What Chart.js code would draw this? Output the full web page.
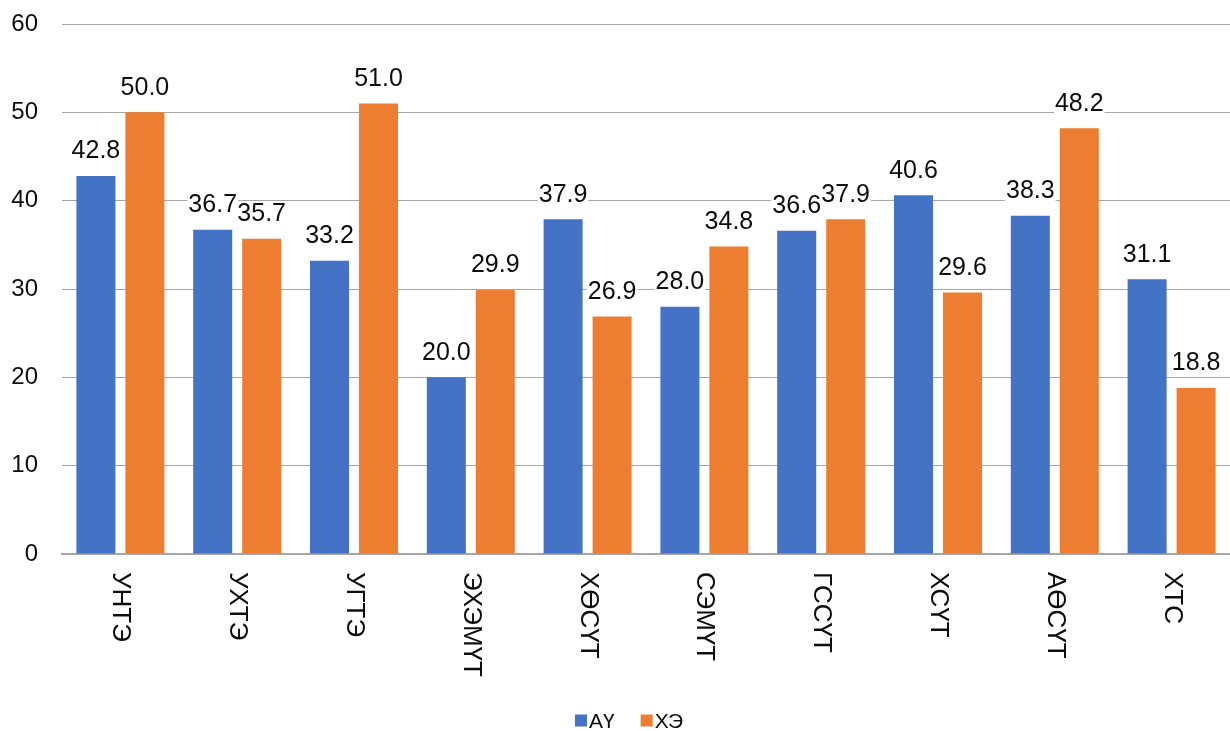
<!DOCTYPE html>
<html>
<head>
<meta charset="utf-8">
<script src="https://cdn.jsdelivr.net/npm/chart.js@4/dist/chart.umd.min.js"></script>
<style>
  html, body { margin: 0; padding: 0; background: #fff; }
  #wrap { width: 1230px; height: 731px; position: relative; }
</style>
</head>
<body>
<div id="wrap"><canvas id="c" width="1230" height="731"></canvas></div>
<script>
// Hospitals (categories)
const categories = ['УНТЭ', 'УХТЭ', 'УГТЭ', 'ЭХЭМҮТ', 'ХӨСҮТ', 'СЭМҮТ', 'ГССҮТ', 'ХСҮТ', 'АӨСҮТ', 'ХТС'];
// Series values
const seriesNames = ['АҮ', 'ХЭ'];
const valuesAU = [42.8, 36.7, 33.2, 20.0, 37.9, 28.0, 36.6, 40.6, 38.3, 31.1];
const valuesKHE = [50.0, 35.7, 51.0, 29.9, 26.9, 34.8, 37.9, 29.6, 48.2, 18.8];
// Value axis ticks
const yTicks = [0, 10, 20, 30, 40, 50, 60];

const FONT = '"Liberation Sans", Arial, sans-serif';
const BLUE = '#4472C4';
const ORANGE = '#ED7D31';

// Value labels above each bar, on a white box
const valueLabels = {
  id: 'valueLabels',
  afterDatasetsDraw(chart) {
    const ctx = chart.ctx;
    ctx.save();
    ctx.font = '25px ' + FONT;
    ctx.textAlign = 'center';
    ctx.textBaseline = 'alphabetic';
    chart.data.datasets.forEach((ds, di) => {
      const meta = chart.getDatasetMeta(di);
      meta.data.forEach((bar, i) => {
        const txt = ds.data[i].toFixed(1);
        const base = bar.y - 17.5;
        const w = ctx.measureText(txt).width;
        ctx.fillStyle = '#fff';
        ctx.fillRect(bar.x - w / 2 - 1, base - 20, w + 2, 25);
        ctx.fillStyle = '#0d0d0d';
        ctx.fillText(txt, bar.x, base);
      });
    });
    ctx.restore();
  }
};

// Category labels, turned to read top to bottom
const categoryLabels = {
  id: 'categoryLabels',
  afterDraw(chart) {
    const ctx = chart.ctx;
    const xs = chart.scales.x;
    ctx.save();
    ctx.font = '26px ' + FONT;
    ctx.fillStyle = '#0d0d0d';
    ctx.textAlign = 'left';
    ctx.textBaseline = 'alphabetic';
    xs.ticks.forEach((t, i) => {
      const x = xs.getPixelForTick(i);
      ctx.save();
      ctx.translate(x - 7, chart.chartArea.bottom + 18);
      ctx.rotate(Math.PI / 2);
      ctx.fillText(chart.data.labels[i], 0, 0);
      ctx.restore();
    });
    ctx.restore();
  }
};

// Legend row under the chart
const bottomLegend = {
  id: 'bottomLegend',
  afterDraw(chart) {
    const ctx = chart.ctx;
    ctx.save();
    ctx.font = '21px ' + FONT;
    ctx.textBaseline = 'alphabetic';
    const box = 12, gap = 2, spacing = 26;
    const items = chart.data.datasets.map(ds => ({ label: ds.label, color: ds.backgroundColor }));
    let total = 0;
    items.forEach((it, k) => {
      it.w = ctx.measureText(it.label).width;
      total += box + gap + it.w + (k ? spacing : 0);
    });
    let x = 629 - total / 2;
    const yBox = 714.5, yText = 728;
    items.forEach(it => {
      ctx.fillStyle = it.color;
      ctx.fillRect(x, yBox, box, box);
      ctx.fillStyle = '#0d0d0d';
      ctx.fillText(it.label, x + box + gap, yText);
      x += box + gap + it.w + spacing;
    });
    ctx.restore();
  }
};

new Chart(document.getElementById('c'), {
  type: 'bar',
  data: {
    labels: categories,
    datasets: [
      { label: seriesNames[0], data: valuesAU, backgroundColor: BLUE },
      { label: seriesNames[1], data: valuesKHE, backgroundColor: ORANGE }
    ]
  },
  options: {
    responsive: false,
    animation: false,
    devicePixelRatio: 1,
    layout: { padding: { top: 24, right: 0, bottom: 0, left: 0 } },
    datasets: {
      bar: { categoryPercentage: 0.839, barPercentage: 0.796 }
    },
    plugins: {
      legend: { display: false },
      tooltip: { enabled: false }
    },
    scales: {
      x: {
        grid: { display: false, drawTicks: false },
        border: { display: true, color: '#a6a6a6', width: 2 },
        ticks: { display: false },
        afterFit(scale) { scale.height = 731 - 554; }
      },
      y: {
        min: 0,
        max: 60,
        afterBuildTicks(scale) { scale.ticks = yTicks.map(v => ({ value: v })); },
        grid: { color: '#a6a6a6', lineWidth: 1, drawTicks: false },
        border: { display: false },
        ticks: {
          padding: 24,
          color: '#0d0d0d',
          font: { family: FONT, size: 24 }
        },
        afterFit(scale) {
          scale.width = 62;
          scale.paddingTop = 12;
          scale.paddingBottom = 12;
        }
      }
    }
  },
  plugins: [valueLabels, categoryLabels, bottomLegend]
});
</script>
</body>
</html>
